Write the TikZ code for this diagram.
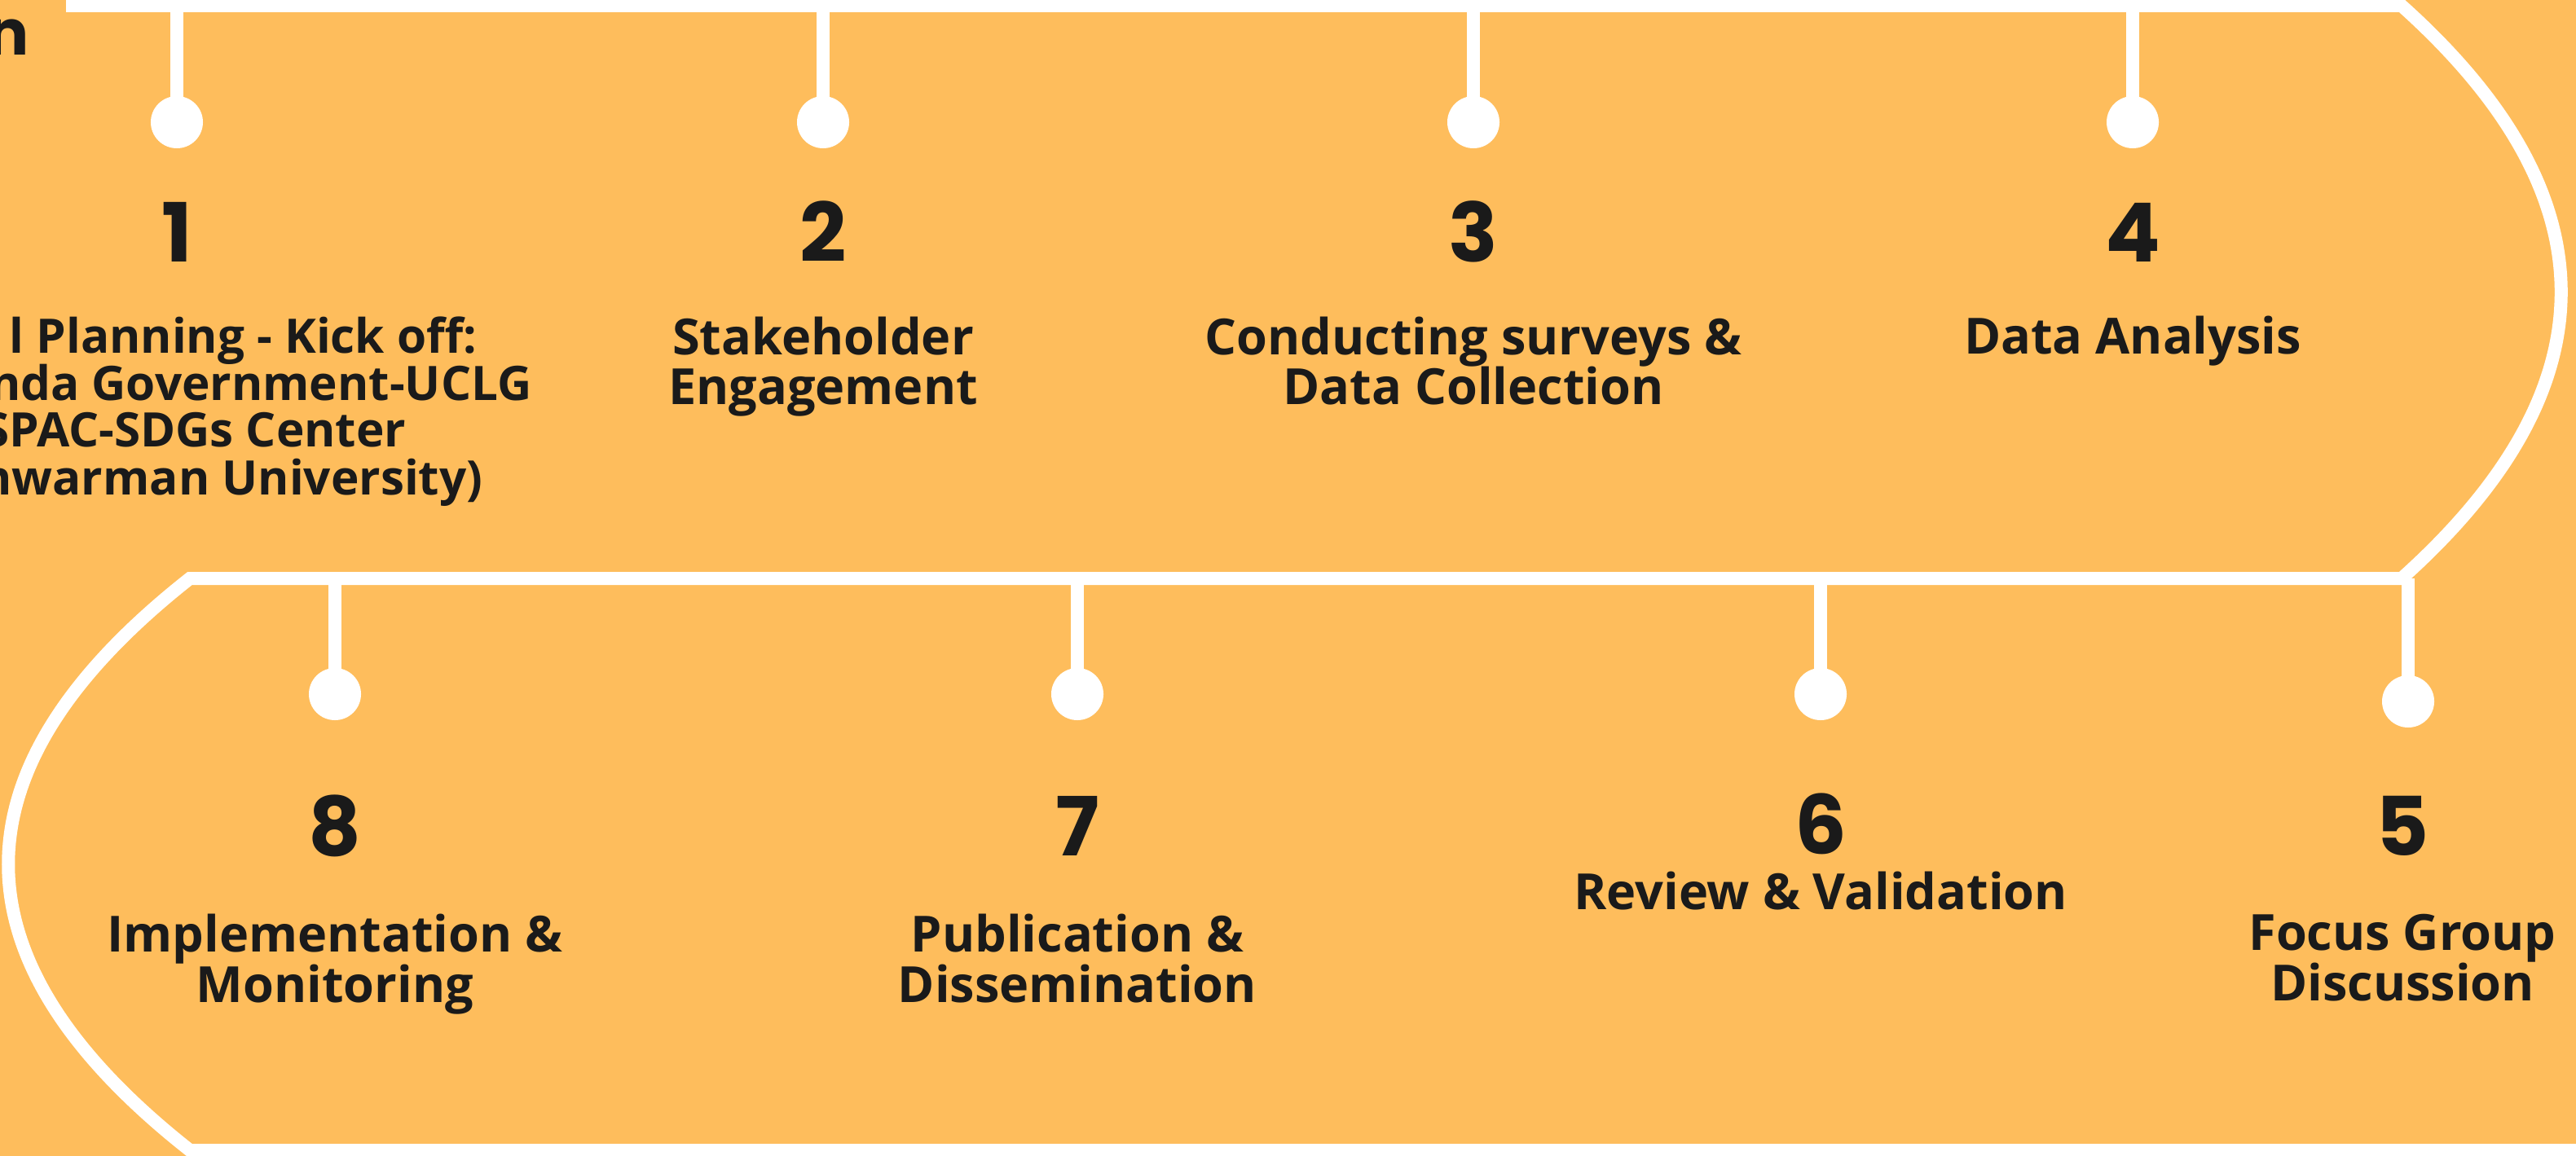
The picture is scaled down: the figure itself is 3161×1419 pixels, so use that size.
\documentclass[tikz,border=0pt]{standalone}
\usepackage{fontspec}
\setmainfont{Open Sans}
\newfontfamily\numfont{Poppins}
\definecolor{bg}{HTML}{FEBD5C}
\definecolor{ink}{HTML}{1A1A1A}
\begin{document}
\begin{tikzpicture}[x=0.01cm,y=-0.01cm,
  track/.style={white, line width=4.55pt},
  stemline/.style={white, line width=4.55pt},
  dot/.style={circle, fill=white, minimum size=0.64cm, inner sep=0pt},
  num/.style={font=\numfont\bfseries\fontsize{28.5}{28.5}\selectfont, text=ink, inner sep=0pt, anchor=base},
  lab/.style={font=\bfseries\fontsize{17.4}{17.6}\selectfont, text=ink, align=center, inner sep=0pt, anchor=base}
]
\fill[bg] (0,0) rectangle (3161,1419);
\useasboundingbox (0,0) rectangle (3161,1419);

% track
\coordinate (ts) at (81,7);
\coordinate (tr1) at (2947,7);
\coordinate (tr2) at (2947,710);
\coordinate (tl1) at (233,710);
\coordinate (tl2) at (233,1412);
\coordinate (te) at (3161,1412);
\draw[track] (ts) -- (tr1) .. controls (3208,241) and (3208,476) .. (tr2) -- (tl1)
  .. controls (-64,944) and (-64,1178) .. (tl2) -- (te);

% top dots
\foreach \i/\x in {1/217,2/1010,3/1808,4/2617}{
  \coordinate (t\i) at (\x,7);
  \node[dot] (d\i) at (\x,150) {};
  \draw[stemline] (t\i) -- (d\i.center);
}
% bottom dots
\foreach \i/\x/\y in {8/411/852,7/1322/852,6/2234/852,5/2955/861}{
  \coordinate (t\i) at (\x,710);
  \node[dot] (d\i) at (\x,\y) {};
  \draw[stemline] (t\i) -- (d\i.center);
}

% title fragment
\node[font=\numfont\bfseries\fontsize{22}{22}\selectfont, text=ink, anchor=base east, inner sep=0pt] (title) at (36,68) {n};

% numbers
\node[num] (n1) at (217,322) {1};
\node[num] (n2) at (1010,322) {2};
\node[num] (n3) at (1808,322) {3};
\node[num] (n4) at (2617,322) {4};
\node[num] (n8) at (411,1050) {8};
\node[num] (n7) at (1322,1050) {7};
\node[num] (n6) at (2234,1048) {6};
\node[num] (n5) at (2948,1050) {5};

% label 1 (cut at left edge)
\begin{scope}[every node/.style={font=\bfseries\fontsize{16.6}{17}\selectfont, text=ink, inner sep=0pt, anchor=base east}]
\node (l1a) at (586,434) {l Planning - Kick off:};
\node (l1b) at (653,492) {nda Government-UCLG};
\node (l1c) at (499,549) {SPAC-SDGs Center};
\node (l1d) at (593,607) {nwarman University)};
\end{scope}

% labels (base anchor = last line's baseline)
\node[lab] (l2) at (1010,497) {Stakeholder\\Engagement};
\node[lab] (l3) at (1808,497) {Conducting surveys \&\\Data Collection};
\node[lab] (l4) at (2617,435) {Data Analysis};
\node[lab] (l8) at (411,1230) {Implementation \&\\Monitoring};
\node[lab] (l7) at (1322,1230) {Publication \&\\Dissemination};
\node[lab] (l6) at (2234,1116) {Review \& Validation};
\node[lab] (l5) at (2948,1228) {Focus Group\\Discussion};
\end{tikzpicture}
\end{document}
